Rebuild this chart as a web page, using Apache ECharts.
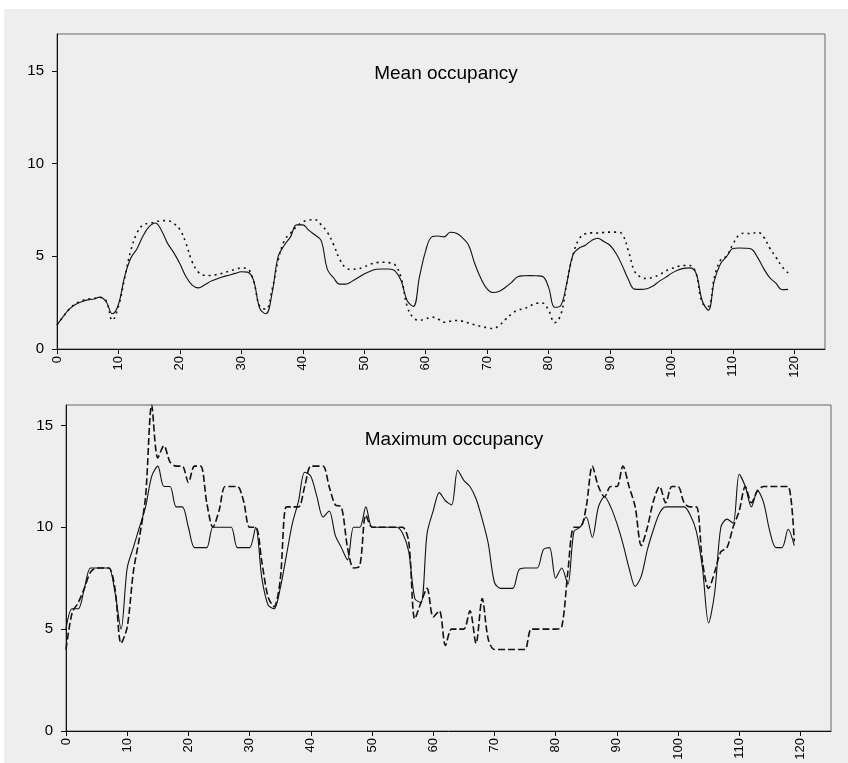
<!DOCTYPE html>
<html><head><meta charset="utf-8">
<script src="https://cdn.jsdelivr.net/npm/echarts@6/dist/echarts.min.js"></script>
<style>
html,body{margin:0;padding:0;background:#ffffff;}
#bg{position:absolute;left:4px;top:9px;width:844px;height:754px;background:#eeeeee;}
#main{position:absolute;left:0;top:0;width:848px;height:763px;}
</style></head><body>
<div id="bg"></div><div id="main"></div>
<script>
// Mean occupancy (top panel)
const meanSolid = [
1.3,1.75,2.15,2.4,2.55,2.65,2.7,2.8,2.55,1.9,
2.4,3.9,4.9,5.4,6.1,6.6,6.8,6.4,5.7,5.2,
4.6,3.9,3.45,3.3,3.45,3.65,3.78,3.9,3.98,4.08,
4.17,4.15,3.7,2.2,1.9,3.0,5.0,5.6,6.05,6.7,
6.7,6.4,6.15,5.85,4.3,3.85,3.5,3.5,3.65,3.85,
4.05,4.2,4.3,4.32,4.32,4.22,3.7,2.6,2.3,3.9,
5.3,6.05,6.1,6.05,6.3,6.25,6.0,5.6,4.6,3.8,
3.25,3.05,3.12,3.33,3.6,3.9,3.95,3.96,3.95,3.92,
3.34,2.25,2.35,3.6,5.1,5.45,5.6,5.85,5.98,5.8,
5.6,5.15,4.5,3.75,3.23,3.22,3.25,3.4,3.65,3.85,
4.08,4.25,4.35,4.38,4.1,2.62,2.1,3.7,4.6,5.0,
5.42,5.45,5.44,5.4,4.96,4.35,3.85,3.55,3.2,3.22];
const meanDotted = [
1.3,1.75,2.15,2.45,2.6,2.7,2.72,2.78,2.6,1.55,
2.3,3.8,5.3,6.25,6.7,6.78,6.85,6.93,6.92,6.78,
6.45,5.7,4.7,4.15,3.98,3.97,4.02,4.1,4.2,4.3,
4.37,4.33,3.65,2.3,2.15,3.2,4.8,5.85,6.25,6.6,
6.86,6.96,6.98,6.7,6.3,5.65,4.85,4.38,4.3,4.33,
4.43,4.58,4.66,4.68,4.66,4.55,3.85,2.3,1.68,1.55,
1.62,1.72,1.62,1.44,1.5,1.54,1.5,1.4,1.3,1.22,
1.15,1.1,1.28,1.6,1.9,2.1,2.17,2.33,2.47,2.48,
2.1,1.42,1.85,3.6,5.1,5.95,6.22,6.27,6.26,6.29,
6.31,6.31,6.2,5.3,4.2,3.88,3.8,3.88,4.0,4.2,
4.33,4.45,4.51,4.51,4.1,2.5,2.3,3.88,4.8,5.02,
5.65,6.15,6.25,6.22,6.31,6.05,5.45,4.96,4.45,4.1];
// Maximum occupancy (bottom panel)
const maxSolid = [
5,6,6,7,8,8,8,8,6.8,5,
8,9,10,11,12.5,13,12,12,11,11,
10,9,9,9,10,10,10,10,9,9,
9,10,7.5,6.2,6,7,8.6,10.2,11.3,12.7,
12.5,11.5,10.5,10.8,9.6,9,8.4,10,10,11,
10,10,10,10,10,9.7,8.8,6.5,6.3,9.7,
10.8,11.7,11.3,11.1,12.8,12.3,12,11.4,10.4,9.2,
7.3,7,7,7,7.9,8,8,8,8.9,9,
7.5,8,7.2,9.8,10,10.5,9.5,11,11.5,11,
10.2,9.2,8,7.1,7.6,8.9,9.9,10.7,11,11,
11,11,10.6,9.8,8,5.3,6.8,10,10.4,10.2,
12.6,12,11,11.8,11.2,9.8,9,9,9.9,9.1];
const maxDashed = [
4,5.8,6.3,7,7.8,8,8,8,7,4.3,
5.1,7.8,9.5,11.5,16,13.4,14,13.2,13,13,
12.2,13,13,11.2,10,10.8,12,12,12,11.3,
10,10,8.3,6.6,6.1,7.4,11,11,11,12,
13,13,13,12,11.1,11,9,8,8.1,10.6,
10,10,10,10,10,10,9.3,5.5,6.3,7,
5.6,5.9,4.2,5,5,5,5.9,4.3,6.5,4.5,
4,4,4,4,4,4,5,5,5,5,
5,5.1,7.8,10,10,11,13,12,11.5,12,
12,13,12,11,9.1,10,11.3,12,11.2,12,
12,11.2,11,11,8.3,7,7.8,8.8,9,10,
10.8,12,11.2,11.8,12,12,12,12,12,9.3];
const xTicks = [0,10,20,30,40,50,60,70,80,90,100,110,120];
const yTicks = [0,5,10,15];
const titles = ['Mean occupancy','Maximum occupancy'];

const pairs = arr => arr.map((v,i)=>[i,v]);
const font = 'Liberation Sans, Arial, sans-serif';
const ink = '#111';

function xAxis(grid){
  return {type:'value',gridIndex:grid,min:0,max:125,
    axisLine:{show:true,onZero:false,lineStyle:{color:ink,width:1}},
    axisTick:{show:true,length:5,customValues:xTicks,lineStyle:{color:ink}},
    axisLabel:{customValues:xTicks,rotate:90,margin:7,color:'#000',fontSize:13,fontFamily:font},
    splitLine:{show:false}};
}
function yAxis(grid,max){
  return {type:'value',gridIndex:grid,min:0,max:max,
    axisLine:{show:true,lineStyle:{color:ink,width:1}},
    axisTick:{show:true,length:5,customValues:yTicks,lineStyle:{color:ink}},
    axisLabel:{customValues:yTicks,margin:13,color:'#000',fontSize:15,fontFamily:font},
    splitLine:{show:false}};
}
const chart = echarts.init(document.getElementById('main'),null,{renderer:'canvas'});
chart.setOption({
  backgroundColor:'transparent',
  animation:false,
  title:[
    {text:titles[0],left:441,top:59,textAlign:'center',textStyle:{fontSize:19,fontWeight:'normal',color:'#000',fontFamily:font}},
    {text:titles[1],left:449,top:425,textAlign:'center',textStyle:{fontSize:19,fontWeight:'normal',color:'#000',fontFamily:font}}
  ],
  grid:[
    {left:57,right:23,top:34,height:315,show:true,borderColor:'#666',borderWidth:1,backgroundColor:'transparent'},
    {left:66,right:17,top:405,height:326,show:true,borderColor:'#666',borderWidth:1,backgroundColor:'transparent'}
  ],
  xAxis:[xAxis(0),xAxis(1)],
  yAxis:[yAxis(0,17),yAxis(1,16)],
  series:[
    {type:'line',xAxisIndex:0,yAxisIndex:0,data:pairs(meanSolid),showSymbol:false,smooth:0.4,
      lineStyle:{color:ink,width:1.1,type:'solid'}},
    {type:'line',xAxisIndex:0,yAxisIndex:0,data:pairs(meanDotted),showSymbol:false,smooth:0.4,
      lineStyle:{color:ink,width:1.6,type:[2,4]}},
    {type:'line',xAxisIndex:1,yAxisIndex:1,data:pairs(maxSolid),showSymbol:false,smooth:0.3,
      lineStyle:{color:ink,width:1.1,type:'solid'}},
    {type:'line',xAxisIndex:1,yAxisIndex:1,data:pairs(maxDashed),showSymbol:false,smooth:0.3,
      lineStyle:{color:ink,width:1.6,type:[7,3]}}
  ]
});
</script>
</body></html>
